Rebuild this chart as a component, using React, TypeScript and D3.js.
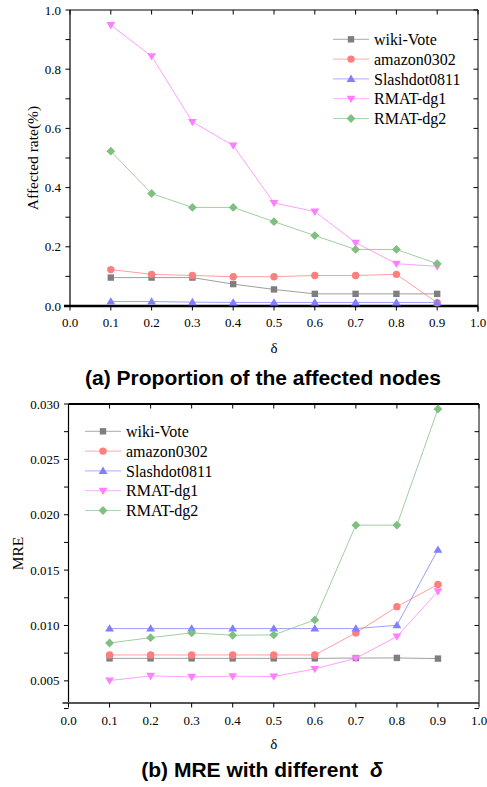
import React from "react";
import * as d3 from "d3";

// δ values shared by both panels
const deltas = [0.1, 0.2, 0.3, 0.4, 0.5, 0.6, 0.7, 0.8, 0.9];

const seriesNames = ["wiki-Vote", "amazon0302", "Slashdot0811", "RMAT-dg1", "RMAT-dg2"];
const seriesColors = ["#7f7f7f", "#ff7f7f", "#7f7fff", "#ff7fff", "#7fbf7f"];
const seriesMarkers = ["square", "circle", "triangleUp", "triangleDown", "diamond"];

// (a) affected rate
const affWiki = [0.096, 0.096, 0.096, 0.074, 0.056, 0.041, 0.041, 0.041, 0.041];
const affAmazon = [0.123, 0.107, 0.103, 0.099, 0.099, 0.103, 0.103, 0.107, 0.011];
const affSlash = [0.015, 0.015, 0.013, 0.012, 0.012, 0.012, 0.012, 0.012, 0.012];
const affDg1 = [0.949, 0.844, 0.622, 0.542, 0.348, 0.319, 0.214, 0.143, 0.134];
const affDg2 = [0.523, 0.380, 0.333, 0.333, 0.285, 0.238, 0.191, 0.191, 0.143];

// (b) MRE
const mreWiki = [0.00703, 0.00703, 0.00703, 0.00703, 0.00703, 0.00703, 0.00706, 0.00707, 0.00701];
const mreAmazon = [0.00734, 0.00734, 0.00734, 0.00734, 0.00734, 0.00734, 0.00933, 0.0117, 0.01371];
const mreSlash = [0.00972, 0.00972, 0.00972, 0.00972, 0.00972, 0.00972, 0.00972, 0.01002, 0.01684];
const mreDg1 = [0.00503, 0.00545, 0.00536, 0.00542, 0.00539, 0.00608, 0.00704, 0.009, 0.01308];
const mreDg2 = [0.00842, 0.0089, 0.00933, 0.00912, 0.00915, 0.0105, 0.01906, 0.01906, 0.02955];

const xTicks = [0, 0.1, 0.2, 0.3, 0.4, 0.5, 0.6, 0.7, 0.8, 0.9, 1.0];
const affTicks = [0, 0.2, 0.4, 0.6, 0.8, 1.0];
const affMinor = [0, 0.1, 0.2, 0.3, 0.4, 0.5, 0.6, 0.7, 0.8, 0.9, 1.0];
const mreTicks = [0.005, 0.01, 0.015, 0.02, 0.025, 0.03];
const mreMinor = [0.0025, 0.005, 0.0075, 0.01, 0.0125, 0.015, 0.0175, 0.02, 0.0225, 0.025, 0.0275, 0.03];

const SERIF = "'Liberation Serif', 'Times New Roman', serif";
const SANS = "'Liberation Sans', Arial, sans-serif";

function Marker({ kind, x, y, color }: { kind: string; x: number; y: number; color: string }) {
  switch (kind) {
    case "square":
      return <rect x={x - 3.2} y={y - 3.2} width={6.4} height={6.4} fill={color} />;
    case "circle":
      return <circle cx={x} cy={y} r={3.7} fill={color} />;
    case "triangleUp":
      return <path d={`M${x},${y - 4.3}L${x + 4.4},${y + 3}L${x - 4.4},${y + 3}Z`} fill={color} />;
    case "triangleDown":
      return <path d={`M${x},${y + 4.3}L${x + 4.4},${y - 3}L${x - 4.4},${y - 3}Z`} fill={color} />;
    default:
      return <path d={`M${x},${y - 4.4}L${x + 4.4},${y}L${x},${y + 4.4}L${x - 4.4},${y}Z`} fill={color} />;
  }
}

type PanelProps = {
  left: number;
  right: number;
  top: number;
  bottom: number;
  yDomain: [number, number];
  yTicks: number[];
  yMinor: number[];
  yFormat: (v: number) => string;
  series: number[][];
  yLabel: string;
  yLabelX: number;
  legendX: number;
  legendY: number;
  topThick: boolean;
  bottomColor: string;
  xLabelY: number;
  deltaY: number;
};

function Panel(p: PanelProps) {
  const x = d3.scaleLinear().domain([0, 1]).range([p.left, p.right]);
  const y = d3.scaleLinear().domain(p.yDomain).range([p.bottom, p.top]);
  const line = d3
    .line<number>()
    .x((_, i) => x(deltas[i]))
    .y((v) => y(v));
  const tickLen = 4.5;
  const midX = (p.left + p.right) / 2;
  const midY = (p.top + p.bottom) / 2;
  return (
    <g>
      {/* frame */}
      <line x1={p.left} x2={p.left} y1={p.top} y2={p.bottom} stroke="#000" strokeWidth={1.2} />
      <line x1={p.right} x2={p.right} y1={p.top} y2={p.bottom + (p.topThick ? 0 : 6)} stroke="#000" strokeWidth={1} />
      <line
        x1={p.left}
        x2={p.right}
        y1={p.top}
        y2={p.top}
        stroke="#000"
        strokeWidth={p.topThick ? 2.2 : 1}
      />
      <line
        x1={p.left - 6}
        x2={p.right}
        y1={p.bottom}
        y2={p.bottom}
        stroke={p.bottomColor}
        strokeWidth={p.topThick ? 1.8 : 2.6}
      />
      {/* y ticks: outward on left, inward on right */}
      {p.yMinor.map((t) => (
        <g key={"ym" + t}>
          <line x1={p.left - tickLen} x2={p.left} y1={y(t)} y2={y(t)} stroke="#000" strokeWidth={1} />
          <line x1={p.right - tickLen} x2={p.right} y1={y(t)} y2={y(t)} stroke="#000" strokeWidth={1} />
        </g>
      ))}
      {p.yTicks.map((t) => (
        <text
          key={"yl" + t}
          x={p.left - 9}
          y={y(t)}
          dy="0.35em"
          textAnchor="end"
          fontFamily={SERIF}
          fontSize={13}
          fill="#000"
        >
          {p.yFormat(t)}
        </text>
      ))}
      {/* x ticks: outward at bottom, inward at top */}
      {xTicks.map((t) => (
        <g key={"xt" + t}>
          <line x1={x(t)} x2={x(t)} y1={p.bottom} y2={p.bottom + tickLen} stroke="#000" strokeWidth={1} />
          <line x1={x(t)} x2={x(t)} y1={p.top} y2={p.top + tickLen} stroke="#000" strokeWidth={1} />
          <text x={x(t)} y={p.xLabelY} dy="0.35em" textAnchor="middle" fontFamily={SERIF} fontSize={13} fill="#000">
            {d3.format(".1f")(t)}
          </text>
        </g>
      ))}
      {/* axis titles */}
      <text x={midX} y={p.deltaY} dy="0.35em" textAnchor="middle" fontFamily={SERIF} fontSize={15} fill="#000">
        δ
      </text>
      <text
        transform={`translate(${p.yLabelX},${midY}) rotate(-90)`}
        dy="0.35em"
        textAnchor="middle"
        fontFamily={SERIF}
        fontSize={15.5}
        fill="#000"
      >
        {p.yLabel}
      </text>
      {/* series */}
      {p.series.map((vals, si) => (
        <g key={"s" + si}>
          <path d={line(vals) || ""} fill="none" stroke={seriesColors[si]} strokeWidth={1} opacity={0.75} />
          {vals.map((v, i) => (
            <Marker key={i} kind={seriesMarkers[si]} x={x(deltas[i])} y={y(v)} color={seriesColors[si]} />
          ))}
        </g>
      ))}
      {/* legend */}
      {seriesNames.map((name, i) => {
        const ly = p.legendY + i * 19.8;
        return (
          <g key={"lg" + name}>
            <line
              x1={p.legendX}
              x2={p.legendX + 36}
              y1={ly}
              y2={ly}
              stroke={seriesColors[i]}
              strokeWidth={1}
              opacity={0.65}
            />
            <Marker kind={seriesMarkers[i]} x={p.legendX + 18} y={ly} color={seriesColors[i]} />
            <text x={p.legendX + 41} y={ly} dy="0.35em" fontFamily={SERIF} fontSize={16} fill="#000">
              {name}
            </text>
          </g>
        );
      })}
    </g>
  );
}

export default function App() {
  return (
    <svg
      width={487}
      height={787}
      viewBox="0 0 487 787"
      style={{ position: "absolute", left: 0, top: 0, background: "#fff" }}
    >
      <rect width={487} height={787} fill="#fff" />
      <Panel
        left={70}
        right={478}
        top={10}
        bottom={306}
        yDomain={[0, 1]}
        yTicks={affTicks}
        yMinor={affMinor}
        yFormat={d3.format(".1f")}
        series={[affWiki, affAmazon, affSlash, affDg1, affDg2]}
        yLabel="Affected rate(%)"
        yLabelX={33}
        legendX={333}
        legendY={39.3}
        topThick={false}
        bottomColor="#000"
        xLabelY={322}
        deltaY={348}
      />
      <text x={263} y={378} dy="0.35em" textAnchor="middle" fontFamily={SANS} fontWeight="bold" fontSize={21} fill="#000">
        (a) Proportion of the affected nodes
      </text>
      <Panel
        left={68.5}
        right={479}
        top={404}
        bottom={703}
        yDomain={[0.003, 0.03]}
        yTicks={mreTicks}
        yMinor={mreMinor}
        yFormat={d3.format(".3f")}
        series={[mreWiki, mreAmazon, mreSlash, mreDg1, mreDg2]}
        yLabel="MRE"
        yLabelX={17.5}
        legendX={85}
        legendY={431.3}
        topThick={true}
        bottomColor="#555"
        xLabelY={720}
        deltaY={744}
      />
      <text x={262} y={770} dy="0.35em" textAnchor="middle" fontFamily={SANS} fontWeight="bold" fontSize={21} fill="#000">
        (b) MRE with different{"\u00a0\u00a0"}
        <tspan fontStyle="italic">δ</tspan>
      </text>
    </svg>
  );
}
